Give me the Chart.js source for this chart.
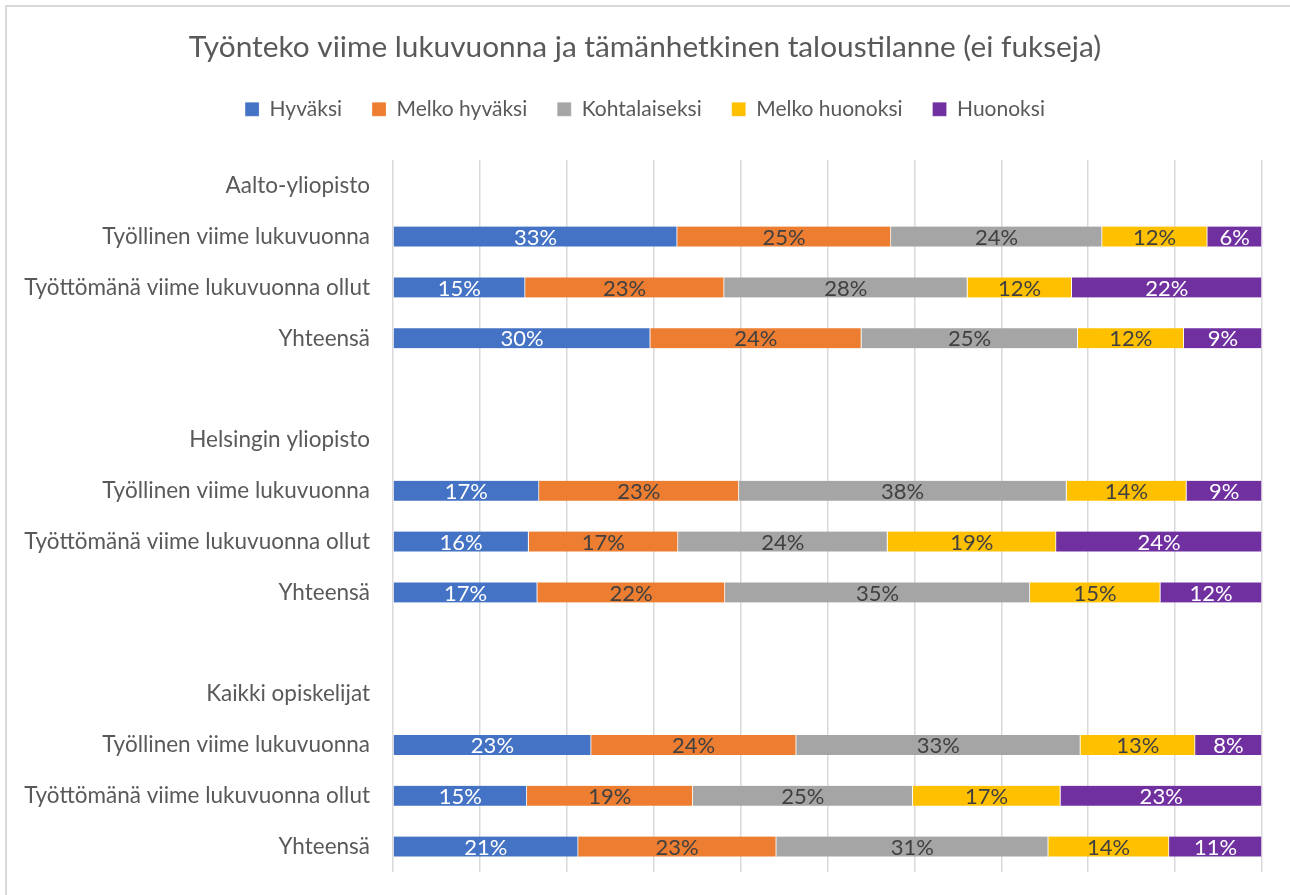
<!DOCTYPE html>
<html>
<head>
<meta charset="utf-8">
<script src="https://cdn.jsdelivr.net/npm/chart.js@4.4.1/dist/chart.umd.min.js"></script>
<style>
  html, body { margin: 0; padding: 0; background: #fff; overflow: hidden; }
  #frame { position: absolute; left: 5px; top: 5px; width: 1400px; height: 1000px; border: 2px solid #d9d9d9; }
  #wrap { position: absolute; left: 0; top: 0; width: 1290px; height: 895px; }
</style>
</head>
<body>
<div id="frame"></div>
<div id="wrap"><canvas id="myChart" width="1290" height="895"></canvas></div>
<script>
  'use strict'

  // Categories, top to bottom (group headers and spacer rows have no bar)
  const categories = [
    'Aalto-yliopisto',
    'Työllinen viime lukuvuonna',
    'Työttömänä viime lukuvuonna ollut',
    'Yhteensä',
    '',
    'Helsingin yliopisto',
    'Työllinen viime lukuvuonna',
    'Työttömänä viime lukuvuonna ollut',
    'Yhteensä',
    '',
    'Kaikki opiskelijat',
    'Työllinen viime lukuvuonna',
    'Työttömänä viime lukuvuonna ollut',
    'Yhteensä'
  ]

  const seriesNames = ['Hyväksi', 'Melko hyväksi', 'Kohtalaiseksi', 'Melko huonoksi', 'Huonoksi']

  // shares in %
  const hyvaksi = [null, 32.7, 15.2, 29.6, null, null, 16.8, 15.6, 16.6, null, null, 22.8, 15.4, 21.3]
  const melkoHyvaksi = [null, 24.6, 22.9, 24.3, null, null, 23.0, 17.2, 21.6, null, null, 23.6, 19.1, 22.8]
  const kohtalaiseksi = [null, 24.3, 28.0, 24.9, null, null, 37.7, 24.1, 35.1, null, null, 32.7, 25.3, 31.3]
  const melkoHuonoksi = [null, 12.1, 12.0, 12.2, null, null, 13.8, 19.4, 15.0, null, null, 13.2, 17.0, 13.9]
  const huonoksi = [null, 6.3, 21.9, 9.0, null, null, 8.7, 23.7, 11.7, null, null, 7.7, 23.2, 10.7]

  const colors = ['#4472c4', '#ed7d31', '#a5a5a5', '#ffc000', '#7030a0']
  const labelColors = ['#ffffff', '#404040', '#404040', '#404040', '#ffffff']

  const FONT = 'Lato'
  const TEXT = '#595959'

  // percentage labels in the middle of each segment
  const barLabels = {
    id: 'barLabels',
    afterDatasetsDraw(chart) {
      const ctx = chart.ctx
      ctx.save()
      ctx.font = '22px ' + FONT
      ctx.textAlign = 'center'
      ctx.textBaseline = 'middle'
      chart.data.datasets.forEach((ds, i) => {
        chart.getDatasetMeta(i).data.forEach((bar, j) => {
          const v = ds.data[j]
          if (v == null) return
          ctx.fillStyle = labelColors[i]
          ctx.fillText(Math.round(v) + '%', (bar.x + bar.base) / 2, bar.y + 1)
        })
      })
      ctx.restore()
    }
  }

  const values = [hyvaksi, melkoHyvaksi, kohtalaiseksi, melkoHuonoksi, huonoksi]

  const ctx = document.getElementById('myChart')

  const myChart = new Chart(ctx, {
    type: 'bar',
    data: {
      labels: categories,
      datasets: values.map((d, i) => ({
        label: seriesNames[i],
        data: d,
        backgroundColor: colors[i],
        borderColor: '#ffffff',
        borderWidth: { left: 0, top: 0, bottom: 0, right: 1 },
        borderSkipped: false,
        barThickness: 20
      }))
    },
    options: {
      indexAxis: 'y',
      responsive: false,
      animation: false,
      layout: {
        padding: { left: 0, right: 0, top: 0, bottom: 23 }
      },
      scales: {
        x: {
          // top axis without labels, only to leave room under the legend
          position: 'top',
          stacked: true,
          min: 0,
          max: 100,
          ticks: { display: false, stepSize: 10 },
          grid: {
            color: '#d9d9d9',
            lineWidth: 1.5,
            drawTicks: true,
            tickLength: 30.6,
            tickColor: 'transparent'
          },
          border: { display: false },
          afterFit(scale) {
            scale.paddingRight = 28
          }
        },
        y: {
          stacked: true,
          grid: { display: false, drawTicks: false },
          border: { display: false },
          ticks: {
            color: TEXT,
            padding: 23,
            font: { family: FONT, size: 22.5 }
          },
          afterFit(scale) {
            scale.width = 393
            scale.paddingTop = 0
            scale.paddingBottom = 0
          }
        }
      },
      plugins: {
        title: {
          display: true,
          text: 'Työnteko viime lukuvuonna ja tämänhetkinen taloustilanne (ei fukseja)',
          color: TEXT,
          font: { family: FONT, size: 29.8, weight: 'normal' },
          padding: { top: 30, bottom: 3 }
        },
        legend: {
          labels: {
            color: TEXT,
            boxWidth: 14,
            boxHeight: 14,
            padding: 30,
            font: { family: FONT, size: 21 }
          }
        },
        tooltip: { enabled: false }
      }
    },
    plugins: [barLabels]
  })
</script>
</body>
</html>
